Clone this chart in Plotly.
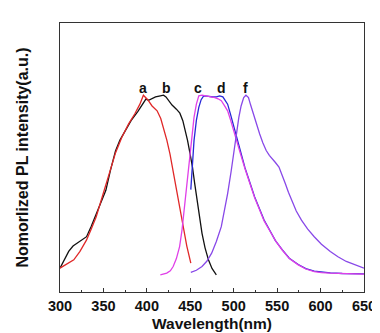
import plotly.graph_objects as go

# Curve a (red)
a_x = [300, 308, 315.9, 323, 330.6, 336, 341.7, 349, 356.5, 364, 371.2, 379, 386, 392, 396, 401, 406, 411.8,
       416, 419.2, 423, 426.6, 430, 434, 438, 441.4, 446, 450.6]
a_y = [0.037, 0.058, 0.083, 0.13, 0.194, 0.255, 0.323, 0.44, 0.563, 0.68, 0.766, 0.84, 0.895, 0.95, 1.0,
       0.975, 0.94, 0.913, 0.87, 0.821, 0.75, 0.673, 0.58, 0.470, 0.37, 0.268, 0.16, 0.065]

# Curve b (black)
b_x = [300, 305, 310, 315, 319.6, 325, 330.6, 336, 341.7, 347, 352.8, 358, 363.9, 369, 374.9, 382, 389.7,
       395, 398.9, 402, 404.5, 410, 415.5, 419.2, 422, 424.8, 429, 434, 438, 441.4, 444, 446.9, 449.5, 452.5,
       455, 458, 460.5, 463.5, 467, 470.9, 475, 480]
b_y = [0.037, 0.08, 0.13, 0.16, 0.175, 0.19, 0.212, 0.27, 0.341, 0.40, 0.47, 0.58, 0.69, 0.75, 0.80, 0.86,
       0.91, 0.95, 0.978, 0.972, 0.978, 0.99, 0.996, 1.0, 0.99, 0.969, 0.945, 0.922, 0.90, 0.858, 0.81,
       0.747, 0.68, 0.60, 0.51, 0.415, 0.32, 0.231, 0.15, 0.083, 0.035, 0.0]

# Curve c (magenta)
c_x = [415.5, 422.9, 427, 430.3, 434, 437.7, 440.5, 443.2, 446, 448.8, 451.5, 454.3, 457, 459.8, 463.5, 469,
       474, 478.3, 482, 485.7, 489, 493, 496.5, 500.4, 504, 507.8, 513, 518.9, 524, 529.9, 535, 541, 548,
       555.8, 564, 574.3, 583, 592.7, 601, 611.2, 625, 650]
c_y = [0.0, 0.009, 0.022, 0.046, 0.09, 0.157, 0.25, 0.378, 0.52, 0.655, 0.78, 0.876, 0.95, 0.996, 1.0,
       0.996, 0.99, 0.987, 0.98, 0.969, 0.945, 0.913, 0.86, 0.80, 0.735, 0.673, 0.59, 0.507, 0.43, 0.36,
       0.30, 0.249, 0.19, 0.138, 0.09, 0.055, 0.032, 0.018, 0.012, 0.009, 0.006, 0.004]

# Curve d (blue)
d_x = [450.6, 452.5, 454.3, 457, 459.8, 462.5, 465.4, 469, 472.8, 476.5, 480.1, 483.8, 487.5, 490, 493,
       496.5, 500.4, 504, 507.8, 513, 518.9, 524, 529.9, 535, 541, 548, 555.8, 564, 574.3, 583, 592.7, 601,
       611.2, 625, 650]
d_y = [0.474, 0.62, 0.747, 0.86, 0.932, 0.975, 0.996, 0.995, 0.991, 0.99, 0.991, 0.996, 0.991, 0.975, 0.95,
       0.89, 0.821, 0.75, 0.683, 0.595, 0.51, 0.435, 0.365, 0.305, 0.252, 0.19, 0.14, 0.092, 0.057, 0.034,
       0.02, 0.014, 0.01, 0.007, 0.005]

# Curve f (violet)
f_x = [450.6, 457, 463.5, 469, 474.6, 480, 485.7, 489.5, 493, 497, 500.4, 503, 505.9, 508.5, 511.5, 514.1,
       517, 519.5, 522.6, 526, 529.9, 533.5, 537.4, 541, 544.7, 548, 552.1, 556, 559.5, 563, 566.9, 572,
       578, 585, 592.7, 601, 611.2, 620, 629.6, 640, 650]
f_y = [0.013, 0.025, 0.046, 0.075, 0.12, 0.185, 0.268, 0.355, 0.452, 0.575, 0.692, 0.79, 0.876, 0.94, 0.987,
       1.0, 0.987, 0.945, 0.895, 0.84, 0.784, 0.735, 0.692, 0.665, 0.646, 0.625, 0.60, 0.555, 0.507, 0.46,
       0.415, 0.355, 0.304, 0.255, 0.212, 0.17, 0.129, 0.1, 0.074, 0.053, 0.037]

labels = ["a", "b", "c", "d", "f"]
label_x = [395.2, 422.9, 459.1, 485.7, 513.3]
label_y = [1.042, 1.042, 1.042, 1.042, 1.042]

x_ticks = [300, 350, 400, 450, 500, 550, 600, 650]

fig = go.Figure()
series = [
    (b_x, b_y, "#111111"),
    (a_x, a_y, "#e02828"),
    (d_x, d_y, "#2828d8"),
    (c_x, c_y, "#e040e8"),
    (f_x, f_y, "#8848e8"),
]
for xs, ys, col in series:
    fig.add_trace(go.Scatter(x=xs, y=ys, mode="lines", line=dict(color=col, width=1.3),
                             showlegend=False, hoverinfo="skip"))

for t, x, y in zip(labels, label_x, label_y):
    fig.add_annotation(x=x, y=y, text="<b>" + t + "</b>", showarrow=False, yanchor="middle",
                       font=dict(family="Liberation Sans, Arial", size=14, color="#111111"))

fig.update_layout(
    width=380, height=333,
    margin=dict(l=52, r=12, t=15, b=47),
    paper_bgcolor="white", plot_bgcolor="white",
    font=dict(family="Liberation Sans, Arial", color="#111111"),
    xaxis=dict(range=[300, 650], tickvals=x_ticks, ticktext=["<b>%d</b>" % v for v in x_ticks],
               ticks="inside", ticklen=4, tickcolor="#333", showgrid=False, zeroline=False,
               showline=True, linecolor="#333", linewidth=1.2, mirror=True,
               tickfont=dict(size=14.5),
               minor=dict(tickvals=[325, 375, 425, 475, 525, 575, 625], ticks="inside", ticklen=2, tickcolor="#333"),
               title=dict(text="<b>Wavelength(nm)</b>", font=dict(size=15.5), standoff=5)),
    yaxis=dict(range=[-0.096, 1.402], showticklabels=False, ticks="", showgrid=False, zeroline=False,
               showline=True, linecolor="#333", linewidth=1.2, mirror=True,
               title=dict(text="<b>Nomorlized PL intensity(a.u.)</b>", font=dict(size=16), standoff=26)),
)

fig.write_html("out.html")
